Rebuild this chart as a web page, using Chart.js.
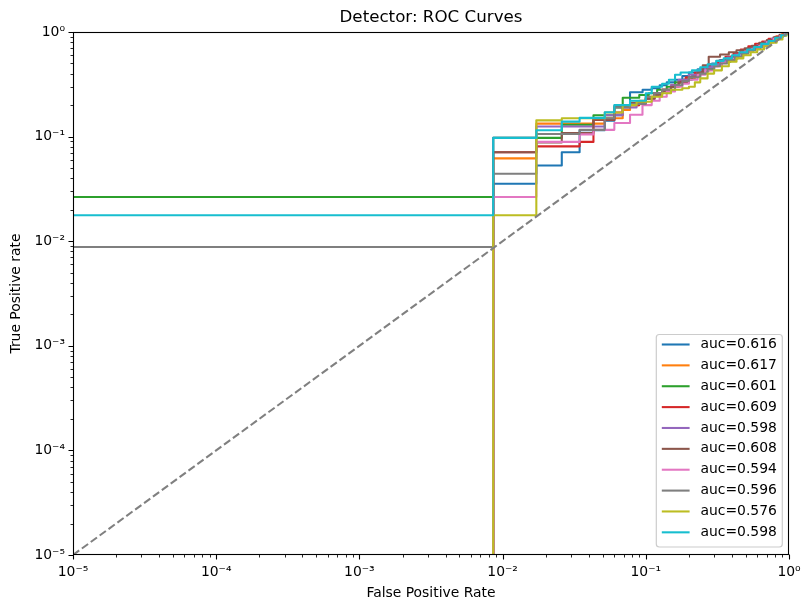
<!DOCTYPE html>
<html><head><meta charset="utf-8">
<script src="https://cdn.jsdelivr.net/npm/chart.js@4.4.0/dist/chart.umd.min.js"></script>
<style>html,body{margin:0;padding:0;background:#fff;}#wrap{width:811px;height:611px;}</style>
</head><body><div id="wrap"><canvas id="c" width="811" height="611"></canvas></div>
<script>
// ---- data ----
const curveLabels = ['auc=0.616','auc=0.617','auc=0.601','auc=0.609','auc=0.598','auc=0.608','auc=0.594','auc=0.596','auc=0.576','auc=0.598'];
const curveColors = ['#1f77b4','#ff7f0e','#2ca02c','#d62728','#9467bd','#8c564b','#e377c2','#7f7f7f','#bcbd22','#17becf'];
const tickValues = [1e-5,1e-4,1e-3,1e-2,1e-1,1];
const tickLabels = ['10\u207B\u2075','10\u207B\u2074','10\u207B\u00B3','10\u207B\u00B2','10\u207B\u00B9','10\u2070'];

// each point: (fpr where the curve steps, tpr after the step)
const fprBlue = [0,0.0086,0.0172,0.0259,0.0345,0.0517,0.0603,0.069,0.0776,0.095,0.11,0.125,0.14,0.16,0.18,0.2,0.23,0.26,0.29,0.33,0.37,0.42,0.47,0.53,0.6,0.67,0.75,0.83,0.91,1];
const tprBlue = [0,0.0354,0.053,0.0708,0.115,0.142,0.16,0.2,0.265,0.28,0.29,0.31,0.33,0.35,0.38,0.41,0.44,0.47,0.5,0.54,0.58,0.62,0.66,0.7,0.75,0.8,0.85,0.9,0.95,1];

const fprOrange = [0,0.0086,0.0172,0.0517,0.069,0.0776,0.09,0.1,0.115,0.13,0.15,0.17,0.19,0.22,0.25,0.28,0.32,0.36,0.41,0.46,0.52,0.58,0.65,0.73,0.82,0.9,1];
const tprOrange = [0,0.0619,0.133,0.15,0.18,0.2,0.22,0.24,0.26,0.28,0.3,0.33,0.36,0.4,0.43,0.47,0.51,0.55,0.6,0.64,0.69,0.73,0.79,0.85,0.91,0.96,1];

const fprGreen = [0,0.0086,0.0259,0.0431,0.0603,0.069,0.09,0.105,0.12,0.14,0.16,0.18,0.21,0.24,0.27,0.3,0.34,0.39,0.44,0.5,0.56,0.63,0.7,0.78,0.86,0.93,1];
const tprGreen = [0.0265,0.0973,0.13,0.16,0.19,0.235,0.25,0.26,0.28,0.3,0.33,0.35,0.38,0.42,0.45,0.48,0.52,0.56,0.61,0.66,0.7,0.75,0.8,0.86,0.92,0.97,1];

const fprRed = [0,0.0086,0.0172,0.0345,0.0431,0.0603,0.069,0.09,0.1,0.115,0.13,0.15,0.17,0.19,0.22,0.25,0.28,0.32,0.36,0.41,0.46,0.52,0.58,0.65,0.72,0.8,0.88,0.95,1];
const tprRed = [0,0.0708,0.0807,0.089,0.144,0.17,0.2,0.215,0.23,0.26,0.28,0.31,0.34,0.37,0.41,0.45,0.49,0.53,0.58,0.63,0.68,0.73,0.77,0.81,0.86,0.9,0.94,0.98,1];

const fprPurple = [0,0.0086,0.0172,0.0517,0.069,0.0862,0.1,0.115,0.13,0.15,0.17,0.2,0.23,0.26,0.29,0.33,0.37,0.42,0.47,0.53,0.6,0.68,0.76,0.85,0.93,1];
const tprPurple = [0,0.0973,0.125,0.16,0.19,0.21,0.23,0.26,0.28,0.31,0.35,0.39,0.43,0.46,0.49,0.53,0.57,0.61,0.65,0.7,0.75,0.8,0.86,0.92,0.97,1];

const fprBrown = [0,0.0086,0.0172,0.0259,0.0431,0.0603,0.0776,0.1,0.115,0.13,0.15,0.17,0.2,0.23,0.25,0.275,0.33,0.38,0.43,0.49,0.55,0.62,0.7,0.78,0.86,0.94,1];
const tprBrown = [0,0.0708,0.088,0.108,0.145,0.196,0.21,0.23,0.25,0.27,0.3,0.33,0.37,0.41,0.48,0.58,0.61,0.64,0.67,0.7,0.74,0.79,0.84,0.89,0.94,0.98,1];

const fprPink = [0,0.0086,0.0172,0.0345,0.0431,0.0603,0.0776,0.0948,0.11,0.125,0.14,0.16,0.18,0.2,0.23,0.26,0.3,0.34,0.38,0.43,0.49,0.55,0.62,0.7,0.78,0.87,0.94,1];
const tprPink = [0,0.0265,0.089,0.105,0.116,0.135,0.162,0.2,0.22,0.24,0.27,0.3,0.32,0.35,0.39,0.43,0.47,0.51,0.55,0.6,0.65,0.69,0.74,0.8,0.86,0.92,0.97,1];

const fprGray = [0,0.0086,0.0172,0.0345,0.0517,0.0603,0.0776,0.1,0.115,0.13,0.16,0.18,0.2,0.24,0.27,0.3,0.33,0.37,0.42,0.47,0.52,0.58,0.65,0.72,0.8,0.88,0.95,1];
const tprGray = [0.0088,0.0442,0.106,0.116,0.15,0.19,0.205,0.24,0.26,0.28,0.31,0.34,0.37,0.4,0.44,0.47,0.5,0.54,0.58,0.62,0.67,0.71,0.76,0.81,0.87,0.93,0.98,1];

const fprOlive = [0,0.0086,0.0172,0.0259,0.0517,0.069,0.0862,0.11,0.13,0.15,0.18,0.2,0.22,0.24,0.27,0.3,0.34,0.38,0.43,0.48,0.54,0.6,0.67,0.74,0.82,0.9,0.96,1];
const tprOlive = [0,0.0177,0.143,0.15,0.17,0.2,0.215,0.24,0.26,0.28,0.29,0.3,0.33,0.36,0.4,0.43,0.47,0.52,0.56,0.6,0.64,0.68,0.73,0.79,0.85,0.92,0.97,1];

const fprCyan = [0,0.0086,0.0172,0.0259,0.0345,0.0517,0.0603,0.0776,0.1,0.11,0.13,0.145,0.16,0.175,0.21,0.24,0.27,0.31,0.35,0.4,0.45,0.51,0.57,0.64,0.72,0.8,0.88,0.95,1];
const tprCyan = [0.0177,0.0973,0.115,0.139,0.151,0.171,0.2,0.22,0.26,0.3,0.32,0.35,0.39,0.41,0.43,0.46,0.49,0.53,0.56,0.6,0.64,0.68,0.72,0.77,0.82,0.88,0.93,0.98,1];

const diagX = [1e-5, 1];
const diagY = [1e-5, 1];

const curveFpr = [fprBlue,fprOrange,fprGreen,fprRed,fprPurple,fprBrown,fprPink,fprGray,fprOlive,fprCyan];
const curveTpr = [tprBlue,tprOrange,tprGreen,tprRed,tprPurple,tprBrown,tprPink,tprGray,tprOlive,tprCyan];

// ---- build ----
const clipLog = v => v > 0 ? v : 1e-9; // like matplotlib's nonpositive clip on log axes
function stairs(f, t) {
  const pts = [{x: clipLog(f[0]), y: clipLog(t[0])}];
  for (let i = 1; i < f.length; i++) {
    pts.push({x: clipLog(f[i]), y: clipLog(t[i-1])});
    pts.push({x: clipLog(f[i]), y: clipLog(t[i])});
  }
  return pts;
}

const LW = 2.08; // 1.5pt at 100 dpi

const datasets = curveLabels.map((lab, i) => ({
  label: lab,
  data: stairs(curveFpr[i], curveTpr[i]),
  borderColor: curveColors[i],
  backgroundColor: curveColors[i],
  borderWidth: LW,
  borderJoinStyle: 'round',
  borderCapStyle: 'butt',
  pointRadius: 0,
  tension: 0,
  fill: false,
  order: curveLabels.length - i
}));
datasets.push({
  label: 'diag',
  data: diagX.map((x, i) => ({x, y: diagY[i]})),
  borderColor: '#808080',
  borderWidth: LW,
  borderDash: [7.7, 3.3],
  pointRadius: 0,
  fill: false,
  order: 0
});

Chart.defaults.font.family = "'DejaVu Sans', sans-serif";
Chart.defaults.color = '#000';

const FS = 13.9;

function logAxis(text, titlePad, tickPad, fit) {
  return {
    type: 'logarithmic', min: 1e-5, max: 1,
    grid: {display: false, drawTicks: false},
    border: {display: false},
    title: {display: true, text: text, color: '#000', font: {size: FS}, padding: titlePad},
    ticks: {
      color: '#000', font: {size: FS}, padding: tickPad, autoSkip: false, maxRotation: 0,
      callback: (v) => { const k = tickValues.indexOf(v); return k >= 0 ? tickLabels[k] : ''; }
    },
    afterBuildTicks: (s) => { s.ticks = tickValues.map(v => ({value: v})); },
    afterFit: fit
  };
}

const axisDecor = {
  id: 'axisDecor',
  afterDatasetsDraw(chart) {
    const {ctx, chartArea: a, scales} = chart;
    const xs = scales.x, ys = scales.y;
    const L = Math.round(a.left) + 0.5, R = Math.round(a.right) - 0.5;
    const T = Math.round(a.top) + 0.5, B = Math.round(a.bottom) - 0.5;
    ctx.save();
    ctx.strokeStyle = '#000';
    const minor = [];
    for (let e = -5; e < 0; e++) for (let k = 2; k <= 9; k++) minor.push(k * Math.pow(10, e));
    // minor ticks
    ctx.lineWidth = 0.85;
    ctx.beginPath();
    minor.forEach(v => {
      const px = Math.round(xs.getPixelForValue(v)) + 0.5;
      ctx.moveTo(px, B); ctx.lineTo(px, B + 3);
      const py = Math.round(ys.getPixelForValue(v)) + 0.5;
      ctx.moveTo(L, py); ctx.lineTo(L - 3, py);
    });
    ctx.stroke();
    // major ticks
    ctx.lineWidth = 1.1;
    ctx.beginPath();
    tickValues.forEach(v => {
      const px = Math.round(xs.getPixelForValue(v)) + 0.5;
      ctx.moveTo(px, B); ctx.lineTo(px, B + 5);
      const py = Math.round(ys.getPixelForValue(v)) + 0.5;
      ctx.moveTo(L, py); ctx.lineTo(L - 5, py);
    });
    ctx.stroke();
    // frame
    ctx.lineWidth = 1.1;
    ctx.strokeRect(L, T, R - L, B - T);
    ctx.restore();
  }
};

const legendBox = {
  id: 'legendBox',
  afterDraw(chart) {
    const {ctx, chartArea: a} = chart;
    const n = curveLabels.length;
    const rowH = 20.87;
    const right = a.right - 6.7, bottom = a.bottom - 8;
    const w = 126, h = 212.5;
    const left = right - w, top = bottom - h;
    ctx.save();
    ctx.beginPath();
    ctx.roundRect(left, top, w, h, 3);
    ctx.fillStyle = 'rgba(255,255,255,0.8)';
    ctx.fill();
    ctx.strokeStyle = '#cccccc';
    ctx.lineWidth = 1.2;
    ctx.stroke();
    ctx.font = FS + "px 'DejaVu Sans'";
    ctx.textBaseline = 'middle';
    ctx.textAlign = 'left';
    for (let i = 0; i < n; i++) {
      const cy = top + 10 + i * rowH;
      ctx.strokeStyle = curveColors[i];
      ctx.lineWidth = LW;
      ctx.beginPath();
      ctx.moveTo(left + 5.5, cy); ctx.lineTo(left + 33.3, cy);
      ctx.stroke();
      ctx.fillStyle = '#000';
      ctx.fillText(curveLabels[i], left + 44.2, cy);
    }
    ctx.restore();
  }
};

new Chart(document.getElementById('c'), {
  type: 'line',
  data: {datasets},
  plugins: [axisDecor, legendBox],
  options: {
    responsive: false,
    animation: false,
    parsing: true,
    layout: {padding: {left: 0, right: 22, top: 0, bottom: 0}},
    plugins: {
      legend: {display: false},
      tooltip: {enabled: false},
      title: {display: true, fullSize: false, text: 'Detector: ROC Curves', color: '#000',
        font: {size: 16.7, weight: 'normal', lineHeight: '20px'}, padding: {top: 8, bottom: 4}}
    },
    scales: {
      x: Object.assign(logAxis('False Positive Rate', {top: 0, bottom: 9.5}, 9, (s) => { s.height = 56; }), {position: 'bottom'}),
      y: Object.assign(logAxis('True Positive rate', {top: 8.3, bottom: 0}, 8, (s) => { s.width = 73; }), {position: 'left'})
    }
  }
});
</script>
</body></html>
